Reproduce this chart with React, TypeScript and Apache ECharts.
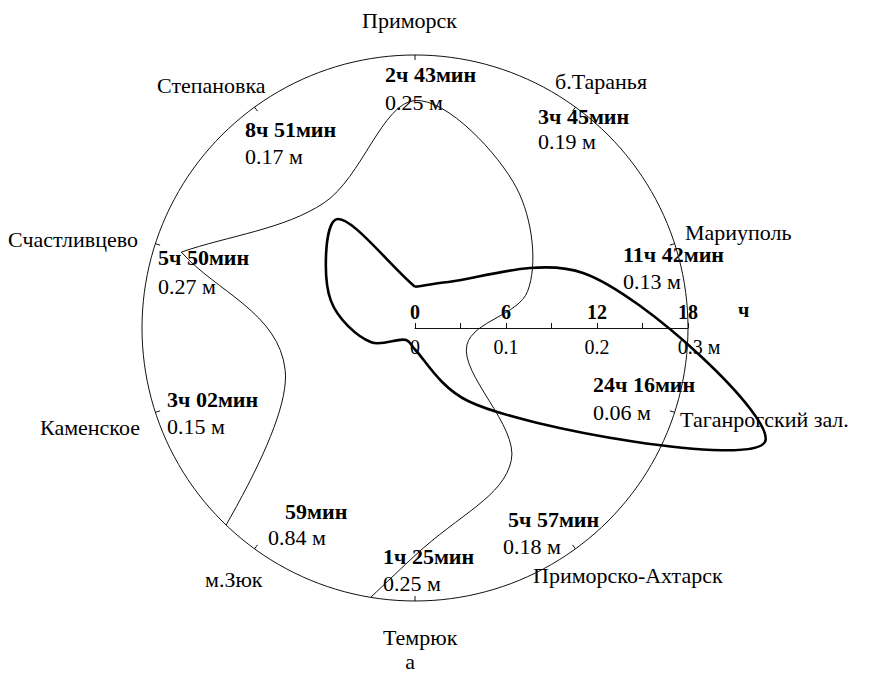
import React, { useEffect, useRef } from 'react';
import * as echarts from 'echarts';

// Stations, counter-clockwise from the first direction (18° from east), 36° apart
const stations = [
  'Мариуполь',
  'б.Таранья',
  'Приморск',
  'Степановка',
  'Счастливцево',
  'Каменское',
  'м.Зюк',
  'Темрюк',
  'Приморско-Ахтарск',
  'Таганрогский зал.',
];
// Lag time (hours + minutes)
const lagHours = [11, 3, 2, 8, 5, 3, 0, 1, 5, 24];
const lagMinutes = [42, 45, 43, 51, 50, 2, 59, 25, 57, 16];
// Amplitude, m
const amplitudes = [0.13, 0.19, 0.25, 0.17, 0.27, 0.15, 0.84, 0.25, 0.18, 0.06];

// Scale bar
const hourTickLabels = [0, 6, 12, 18];
const metreTickLabels = [0, 0.1, 0.2, 0.3];
const hourUnit = 'ч';
const metreUnit = 'м';
const panelLetter = 'а';

// Loop order for the closed curves (start where the reference has a corner)
const lagLoop = [2, 3, 4, 5, 6, 7, 8, 9, 0, 1, 2];
const ampLoop = [4, 5, 6, 7, 8, 9, 0, 1, 2, 3, 4];

// ---- layout (pixels) ----
const CENTER = [415, 328];
const RADIUS = 273;
const EXT = 2; // the lag curve lives on a larger, hidden polar so it is not clipped
const FONT = '"Liberation Serif", "Times New Roman", serif';
const FS = 20;
const TEXT_SCALE = 1.1;
const namePos: [number, number][] = [
  [685, 233], [555, 82], [362, 21], [157, 86], [8, 240],
  [40, 428], [205, 580], [383, 638], [533, 576], [680, 420],
];
const timePos: [number, number][] = [
  [623, 255], [538, 117], [385, 75], [245, 130], [158, 258],
  [167, 400], [285, 512], [383, 557], [508, 520], [593, 385],
];
const ampPos: [number, number][] = [
  [623, 282], [538, 142], [385, 103], [245, 157], [158, 287],
  [167, 427], [268, 538], [383, 584], [503, 547], [593, 413],
];

const lagValue = (i: number) => lagHours[i] + lagMinutes[i] / 60;
const fmtTime = (h: number, m: number) =>
  h > 0 ? `${h}ч ${String(m).padStart(2, '0')}мин` : `${m}мин`;
const fmtAmp = (a: number) => `${a.toFixed(2)} ${metreUnit}`;

// Centripetal Catmull-Rom spline through screen points (open ends -> corner where the loop closes)
function splinePath(pts: number[][]): string {
  const n = pts.length;
  const alpha = 0.5;
  const dist = (u: number[], v: number[]) => Math.pow(Math.hypot(v[0] - u[0], v[1] - u[1]), alpha);
  let d = `M${pts[0][0]},${pts[0][1]}`;
  for (let i = 0; i < n - 1; i++) {
    const p1 = pts[i];
    const p2 = pts[i + 1];
    const p0 = i > 0 ? pts[i - 1] : p1;
    const p3 = i + 2 < n ? pts[i + 2] : p2;
    const d1 = dist(p0, p1);
    const d2 = dist(p1, p2);
    const d3 = dist(p2, p3);
    let b1: number[];
    let b2: number[];
    if (d1 < 1e-6) b1 = [0, 1].map((k) => p1[k] + (p2[k] - p1[k]) / 3);
    else
      b1 = [0, 1].map(
        (k) =>
          (d1 * d1 * p2[k] - d2 * d2 * p0[k] + (2 * d1 * d1 + 3 * d1 * d2 + d2 * d2) * p1[k]) /
          (3 * d1 * (d1 + d2))
      );
    if (d3 < 1e-6) b2 = [0, 1].map((k) => p2[k] - (p2[k] - p1[k]) / 3);
    else
      b2 = [0, 1].map(
        (k) =>
          (d3 * d3 * p1[k] - d2 * d2 * p3[k] + (2 * d3 * d3 + 3 * d3 * d2 + d2 * d2) * p2[k]) /
          (3 * d3 * (d3 + d2))
      );
    d += ` C${b1[0]},${b1[1]} ${b2[0]},${b2[1]} ${p2[0]},${p2[1]}`;
  }
  return d;
}

function txt(x: number, y: number, text: string, bold: boolean, align = 'left') {
  return {
    type: 'text',
    x,
    y,
    scaleX: TEXT_SCALE,
    silent: true,
    style: {
      text,
      x: 0,
      y: 0,
      font: `${bold ? 'bold ' : ''}${FS}px ${FONT}`,
      fill: '#000',
      align,
      verticalAlign: 'middle',
      textAlign: align,
      textVerticalAlign: 'middle',
    },
  };
}

export default function App() {
  const ref = useRef<HTMLDivElement>(null);
  useEffect(() => {
    if (!ref.current) return;
    const chart = echarts.init(ref.current, undefined, { renderer: 'svg' });
    const hourMax = hourTickLabels[hourTickLabels.length - 1];
    const metreMax = metreTickLabels[metreTickLabels.length - 1];

    const graphics: any[] = [];
    stations.forEach((s, i) => {
      graphics.push(txt(namePos[i][0], namePos[i][1], s, false));
      graphics.push(txt(timePos[i][0], timePos[i][1], fmtTime(lagHours[i], lagMinutes[i]), true));
      graphics.push(txt(ampPos[i][0], ampPos[i][1], fmtAmp(amplitudes[i]), false));
    });
    graphics.push(txt(410, 662, panelLetter, false, 'center'));

    const angleCommon = {
      type: 'category',
      data: stations,
      startAngle: 0,
      clockwise: false,
      boundaryGap: true,
      axisLabel: { show: false },
      splitLine: { show: false },
      splitArea: { show: false },
    };
    const hiddenAngle = {
      ...angleCommon,
      axisLine: { show: false },
      axisTick: { show: false },
    };

    const loopRenderer =
      (values: number[][], width: number, color: string) => (params: any, api: any) => {
        if (params.dataIndex !== 0) return null;
        const pts = values.map((v) => api.coord(v));
        return {
          type: 'path',
          silent: true,
          shape: { pathData: splinePath(pts) },
          style: { fill: 'none', stroke: color, lineWidth: width, lineJoin: 'round' },
        };
      };

    const lagData = lagLoop.map((i) => [lagValue(i), i]);
    const ampData = ampLoop.map((i) => [amplitudes[i], i]);

    chart.setOption({
      animation: false,
      backgroundColor: '#fff',
      polar: [
        { center: CENTER, radius: RADIUS },
        { center: CENTER, radius: RADIUS },
        { center: CENTER, radius: RADIUS * EXT },
      ],
      angleAxis: [
        {
          ...angleCommon,
          polarIndex: 0,
          axisLine: { show: true, lineStyle: { color: '#111', width: 1 } },
          axisTick: { show: true, alignWithLabel: true, inside: true, length: 5, lineStyle: { color: '#111', width: 1 } },
        },
        { ...hiddenAngle, polarIndex: 1 },
        { ...hiddenAngle, polarIndex: 2 },
      ],
      radiusAxis: [
        {
          polarIndex: 0,
          type: 'value',
          min: 0,
          max: hourMax,
          interval: 3,
          axisLine: { show: true, lineStyle: { color: '#111', width: 1 } },
          axisTick: { show: true, length: 5, lineStyle: { color: '#111', width: 1 } },
          axisLabel: {
            formatter: (v: number) => (hourTickLabels.includes(v) ? String(v) : ''),
            fontFamily: FONT,
            fontWeight: 'bold',
            fontSize: FS,
            color: '#000',
            margin: 6,
          },
          name: hourUnit,
          nameLocation: 'end',
          nameGap: 50,
          nameTextStyle: {
            fontFamily: FONT,
            fontWeight: 'bold',
            fontSize: FS,
            color: '#000',
            verticalAlign: 'bottom',
            padding: [0, 0, 8, 0],
          },
          splitLine: { show: false },
          splitArea: { show: false },
        },
        {
          polarIndex: 1,
          type: 'value',
          min: 0,
          max: metreMax,
          interval: 0.05,
          axisLine: { show: false },
          axisTick: { show: true, inside: true, length: 5, lineStyle: { color: '#111', width: 1 } },
          axisLabel: {
            formatter: (v: number) => {
              const l = metreTickLabels.find((t) => Math.abs(t - v) < 1e-9);
              if (l === undefined) return '';
              return l === metreMax ? `{u|${l} ${metreUnit}}` : String(l);
            },
            fontFamily: FONT,
            fontSize: FS,
            color: '#000',
            verticalAlign: 'top',
            margin: -9,
            rich: {
              u: {
                fontFamily: FONT,
                fontSize: FS,
                color: '#000',
                padding: [0, 0, 0, 22],
              },
            },
          },
          splitLine: { show: false },
          splitArea: { show: false },
        },
        {
          polarIndex: 2,
          type: 'value',
          min: 0,
          max: hourMax * EXT,
          show: false,
          axisLine: { show: false },
          axisTick: { show: false },
          axisLabel: { show: false },
          splitLine: { show: false },
          splitArea: { show: false },
        },
      ],
      series: [
        {
          type: 'custom',
          name: 'lag',
          coordinateSystem: 'polar',
          polarIndex: 2,
          data: lagData,
          clip: false,
          silent: true,
          z: 3,
          renderItem: loopRenderer(lagData, 2.6, '#000'),
        },
        {
          type: 'custom',
          name: 'amplitude',
          coordinateSystem: 'polar',
          polarIndex: 1,
          data: ampData,
          clip: true,
          silent: true,
          z: 3,
          renderItem: loopRenderer(ampData, 1, '#111'),
        },
      ],
      graphic: graphics,
    });
    return () => chart.dispose();
  }, []);
  return (
    <div
      ref={ref}
      style={{ position: 'fixed', left: 0, top: 0, width: 873, height: 681, background: '#fff' }}
    />
  );
}
